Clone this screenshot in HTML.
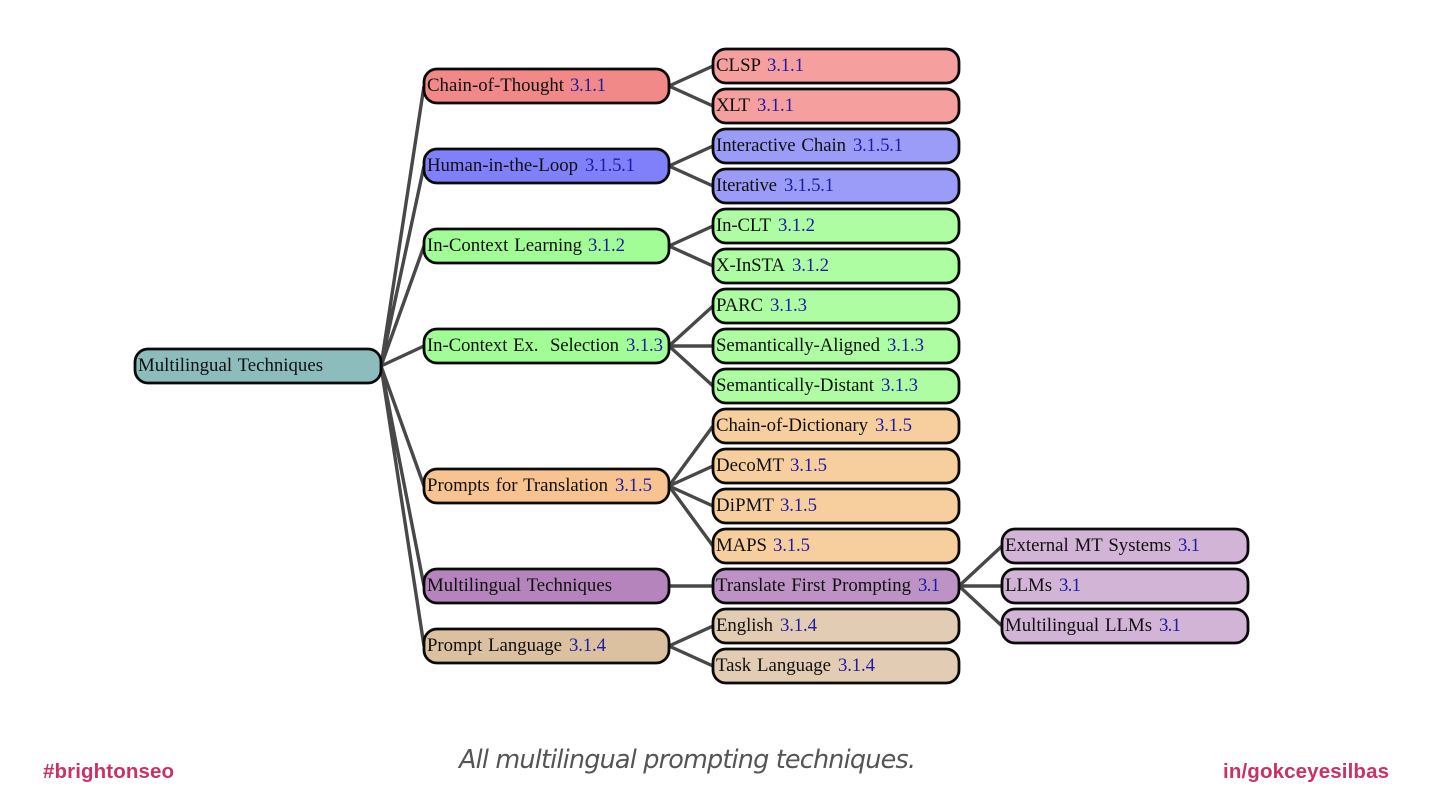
<!DOCTYPE html>
<html><head><meta charset="utf-8"><style>
html,body{margin:0;padding:0;background:#fff;width:1440px;height:810px;overflow:hidden}
svg{display:block}
.d{filter:blur(0.35px)}
.t{font-family:"Liberation Serif",serif;font-size:18.8px;word-spacing:1.2px;fill:#101010}
.n{font-family:"Liberation Serif",serif;font-size:18.8px;fill:#1c1ca6}
.e{stroke:#484848;stroke-width:3.4;fill:none}
.b{stroke:#0a0a0a;stroke-width:2.8}
.f{font-family:"Liberation Sans",sans-serif;font-weight:bold;font-size:20.5px;fill:#ca3263}
.c{font-family:"DejaVu Sans",sans-serif;font-style:italic;font-size:25.5px;fill:#555}
</style></head><body>
<svg width="1440" height="810" viewBox="0 0 1440 810" xmlns="http://www.w3.org/2000/svg">
<g class="d">
<g class="e">
<path d="M381 366L424 86M381 366L424 166M381 366L424 246M381 366L424 346M381 366L424 486M381 366L424 586M381 366L424 646"/>
<path d="M669 86L713 66M669 86L713 106M669 166L713 146M669 166L713 186M669 246L713 226M669 246L713 266"/>
<path d="M669 346L713 306M669 346L713 346M669 346L713 386"/>
<path d="M669 486L713 426M669 486L713 466M669 486L713 506M669 486L713 546"/>
<path d="M669 586L713 586M669 646L713 626M669 646L713 666"/>
<path d="M959 586L1002 546M959 586L1002 586M959 586L1002 626"/>
</g>
<g class="b">
<rect x="135" y="349" width="246" height="34" rx="13" fill="#8dbcbc"/>
<rect x="424" y="69" width="245" height="34" rx="13" fill="#f08987"/>
<rect x="424" y="149" width="245" height="34" rx="13" fill="#8080fb"/>
<rect x="424" y="229" width="245" height="34" rx="13" fill="#a3fd97"/>
<rect x="424" y="329" width="245" height="34" rx="13" fill="#a3fd97"/>
<rect x="424" y="469" width="245" height="34" rx="13" fill="#f7c390"/>
<rect x="424" y="569" width="245" height="34" rx="13" fill="#b584bd"/>
<rect x="424" y="629" width="245" height="34" rx="13" fill="#dcc1a0"/>
<rect x="713" y="49" width="246" height="34" rx="13" fill="#f59f9e"/>
<rect x="713" y="89" width="246" height="34" rx="13" fill="#f59f9e"/>
<rect x="713" y="129" width="246" height="34" rx="13" fill="#9b9bf8"/>
<rect x="713" y="169" width="246" height="34" rx="13" fill="#9b9bf8"/>
<rect x="713" y="209" width="246" height="34" rx="13" fill="#aefda2"/>
<rect x="713" y="249" width="246" height="34" rx="13" fill="#aefda2"/>
<rect x="713" y="289" width="246" height="34" rx="13" fill="#aefda2"/>
<rect x="713" y="329" width="246" height="34" rx="13" fill="#aefda2"/>
<rect x="713" y="369" width="246" height="34" rx="13" fill="#aefda2"/>
<rect x="713" y="409" width="246" height="34" rx="13" fill="#f7cf9f"/>
<rect x="713" y="449" width="246" height="34" rx="13" fill="#f7cf9f"/>
<rect x="713" y="489" width="246" height="34" rx="13" fill="#f7cf9f"/>
<rect x="713" y="529" width="246" height="34" rx="13" fill="#f7cf9f"/>
<rect x="713" y="569" width="246" height="34" rx="13" fill="#bc93c4"/>
<rect x="713" y="609" width="246" height="34" rx="13" fill="#e2ccb3"/>
<rect x="713" y="649" width="246" height="34" rx="13" fill="#e2ccb3"/>
<rect x="1002" y="529" width="246" height="34" rx="13" fill="#d2b4d6"/>
<rect x="1002" y="569" width="246" height="34" rx="13" fill="#d2b4d6"/>
<rect x="1002" y="609" width="246" height="34" rx="13" fill="#d2b4d6"/>
</g>
<g>
<text class="t" x="138" y="371" textLength="185">Multilingual Techniques</text>
<text class="t" x="427" y="91" textLength="137">Chain-of-Thought</text><text class="n" x="570" y="91" textLength="36">3.1.1</text>
<text class="t" x="427" y="171" textLength="151">Human-in-the-Loop</text><text class="n" x="585" y="171" textLength="50">3.1.5.1</text>
<text class="t" x="427" y="251" textLength="155">In-Context Learning</text><text class="n" x="588" y="251" textLength="37">3.1.2</text>
<text class="t" x="427" y="351" textLength="192" xml:space="preserve">In-Context Ex.  Selection</text><text class="n" x="626" y="351" textLength="37">3.1.3</text>
<text class="t" x="427" y="491" textLength="181">Prompts for Translation</text><text class="n" x="615" y="491" textLength="37">3.1.5</text>
<text class="t" x="427" y="591" textLength="185">Multilingual Techniques</text>
<text class="t" x="427" y="651" textLength="135">Prompt Language</text><text class="n" x="569" y="651" textLength="37">3.1.4</text>
<text class="t" x="716" y="71" textLength="45">CLSP</text><text class="n" x="767" y="71" textLength="37">3.1.1</text>
<text class="t" x="716" y="111" textLength="34">XLT</text><text class="n" x="757" y="111" textLength="37">3.1.1</text>
<text class="t" x="716" y="151" textLength="130">Interactive Chain</text><text class="n" x="853" y="151" textLength="50">3.1.5.1</text>
<text class="t" x="716" y="191" textLength="61">Iterative</text><text class="n" x="784" y="191" textLength="50">3.1.5.1</text>
<text class="t" x="716" y="231" textLength="55">In-CLT</text><text class="n" x="778" y="231" textLength="37">3.1.2</text>
<text class="t" x="716" y="271" textLength="69">X-InSTA</text><text class="n" x="792" y="271" textLength="37">3.1.2</text>
<text class="t" x="716" y="311" textLength="47">PARC</text><text class="n" x="770" y="311" textLength="37">3.1.3</text>
<text class="t" x="716" y="351" textLength="164">Semantically-Aligned</text><text class="n" x="887" y="351" textLength="37">3.1.3</text>
<text class="t" x="716" y="391" textLength="158">Semantically-Distant</text><text class="n" x="881" y="391" textLength="37">3.1.3</text>
<text class="t" x="716" y="431" textLength="152">Chain-of-Dictionary</text><text class="n" x="875" y="431" textLength="37">3.1.5</text>
<text class="t" x="716" y="471" textLength="68">DecoMT</text><text class="n" x="790" y="471" textLength="37">3.1.5</text>
<text class="t" x="716" y="511" textLength="58">DiPMT</text><text class="n" x="780" y="511" textLength="37">3.1.5</text>
<text class="t" x="716" y="551" textLength="51">MAPS</text><text class="n" x="773" y="551" textLength="37">3.1.5</text>
<text class="t" x="716" y="591" textLength="195">Translate First Prompting</text><text class="n" x="918" y="591" textLength="22">3.1</text>
<text class="t" x="716" y="631" textLength="57">English</text><text class="n" x="780" y="631" textLength="37">3.1.4</text>
<text class="t" x="716" y="671" textLength="115">Task Language</text><text class="n" x="838" y="671" textLength="37">3.1.4</text>
<text class="t" x="1005" y="551" textLength="166">External MT Systems</text><text class="n" x="1178" y="551" textLength="22">3.1</text>
<text class="t" x="1005" y="591" textLength="47">LLMs</text><text class="n" x="1059" y="591" textLength="22">3.1</text>
<text class="t" x="1005" y="631" textLength="147">Multilingual LLMs</text><text class="n" x="1159" y="631" textLength="22">3.1</text>
</g>
<text class="f" x="43" y="778" textLength="131">#brightonseo</text>
<text class="f" x="1223" y="778" textLength="166">in/gokceyesilbas</text>
<text class="c" x="459" y="768" textLength="457">All multilingual prompting techniques.</text>
</g>
</svg>
</body></html>
